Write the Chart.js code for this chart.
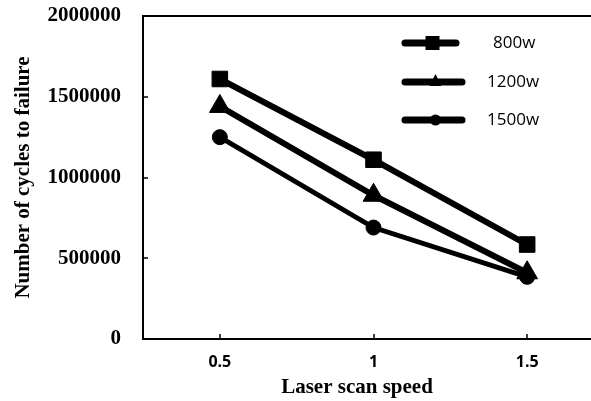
<!DOCTYPE html>
<html>
<head>
<meta charset="utf-8">
<script src="https://cdn.jsdelivr.net/npm/chart.js@4"></script>
<style>
  html, body { margin: 0; padding: 0; background: #fff; overflow: hidden; }
  #wrap { width: 591px; height: 401px; overflow: hidden; }
  #fatigueChart { display: block; width: 604px; height: 401px; }
</style>
</head>
<body>
<div id="wrap"><canvas id="fatigueChart" width="604" height="401"></canvas></div>
<script>
// data
const speeds = ['0.5', '1', '1.5'];
const cycles800 = [1610000, 1110000, 585000];
const cycles1200 = [1440000, 890000, 410000];
const cycles1500 = [1250000, 690000, 385000];
const powerLabels = ['800w', '1200w', '1500w'];
const yTickValues = [0, 500000, 1000000, 1500000, 2000000];

const ctx = document.getElementById('fatigueChart').getContext('2d');

// frame top, inward tick marks, x title and legend
const decorations = {
    id: 'decorations',
    afterDraw(chart) {
        const c = chart.ctx;
        const area = chart.chartArea;
        const xs = chart.scales.x;
        const ys = chart.scales.y;
        c.save();
        // keep the right side open like the cropped original
        c.fillStyle = '#fff';
        c.fillRect(586, area.top + 2, chart.width - 586, area.bottom - area.top - 4);
        c.strokeStyle = '#000';
        c.lineWidth = 2;
        c.beginPath();
        c.moveTo(area.left - 1, area.top);
        c.lineTo(chart.width, area.top);
        c.stroke();
        c.lineWidth = 1.5;
        speeds.forEach((s, i) => {
            const px = Math.round(xs.getPixelForValue(i));
            c.beginPath();
            c.moveTo(px, area.bottom);
            c.lineTo(px, area.bottom - 5);
            c.stroke();
        });
        yTickValues.slice(1, -1).forEach(v => {
            const py = Math.round(ys.getPixelForValue(v));
            c.beginPath();
            c.moveTo(area.left, py);
            c.lineTo(area.left + 5, py);
            c.stroke();
        });

        c.fillStyle = '#000';
        c.font = 'bold 21px "Liberation Serif"';
        c.textAlign = 'center';
        c.textBaseline = 'middle';
        c.fillText('Laser scan speed', 357, 388);

        // legend
        const rowsY = [43, 82, 120];
        const lineX = [[405, 456], [405, 462], [405, 462]];
        const textX = [493, 487, 487];
        chart.data.datasets.forEach((ds, i) => {
            const y = rowsY[i];
            c.lineWidth = 7;
            c.lineCap = 'round';
            c.beginPath();
            c.moveTo(lineX[i][0], y);
            c.lineTo(lineX[i][1], y);
            c.stroke();
            const mx = (lineX[i][0] + lineX[i][1]) / 2 + 2;
            c.beginPath();
            if (ds.pointStyle === 'rect') {
                c.rect(mx - 7, y - 7, 14, 14);
            } else if (ds.pointStyle === 'triangle') {
                c.moveTo(mx, y - 8);
                c.lineTo(mx + 6, y + 4);
                c.lineTo(mx - 6, y + 4);
                c.closePath();
            } else {
                c.arc(mx, y, 5.5, 0, Math.PI * 2);
            }
            c.fill();
            c.font = '17px "Open Sans"';
            c.textAlign = 'left';
            c.fillText(ds.label, textX[i], y);
        });
        c.restore();
    }
};

const baseSet = {
    borderColor: '#000',
    backgroundColor: '#000',
    pointBackgroundColor: '#000',
    pointBorderColor: '#000',
    pointBorderWidth: 1,
    tension: 0,
    fill: false,
    clip: false
};

new Chart(ctx, {
    type: 'line',
    data: {
        labels: speeds,
        datasets: [
            Object.assign({}, baseSet, { label: powerLabels[0], data: cycles800, borderWidth: 6, pointStyle: 'rect', pointRadius: 11 }),
            Object.assign({}, baseSet, { label: powerLabels[1], data: cycles1200, borderWidth: 6, pointStyle: 'triangle', pointRadius: 12 }),
            Object.assign({}, baseSet, { label: powerLabels[2], data: cycles1500, borderWidth: 5, pointStyle: 'circle', pointRadius: 7.5 })
        ]
    },
    options: {
        responsive: false,
        animation: false,
        devicePixelRatio: 1,
        layout: { padding: 0, autoPadding: false },
        plugins: {
            legend: { display: false },
            tooltip: { enabled: false }
        },
        scales: {
            x: {
                type: 'category',
                offset: true,
                grid: { display: false, drawTicks: false },
                border: { display: true, color: '#000', width: 2 },
                ticks: {
                    color: '#000',
                    padding: 14,
                    font: { family: '"Open Sans"', size: 16, weight: 'bold' }
                },
                afterFit(scale) { scale.height = 62; }
            },
            y: {
                min: 0,
                max: 2000000,
                grid: { display: false, drawTicks: false },
                border: { display: true, color: '#000', width: 2 },
                ticks: {
                    stepSize: 500000,
                    color: '#000',
                    padding: 22,
                    font: { family: '"Liberation Serif"', size: 21, weight: 'bold' },
                    callback: v => String(v)
                },
                title: {
                    display: true,
                    text: 'Number of cycles to failure',
                    color: '#000',
                    padding: { top: 11, bottom: 0 },
                    font: { family: '"Liberation Serif"', size: 21, weight: 'bold' }
                },
                afterFit(scale) {
                    scale.width = 143;
                    scale.paddingTop = 16;
                    scale.paddingBottom = 0;
                }
            }
        }
    },
    plugins: [decorations]
});
</script>
</body>
</html>
